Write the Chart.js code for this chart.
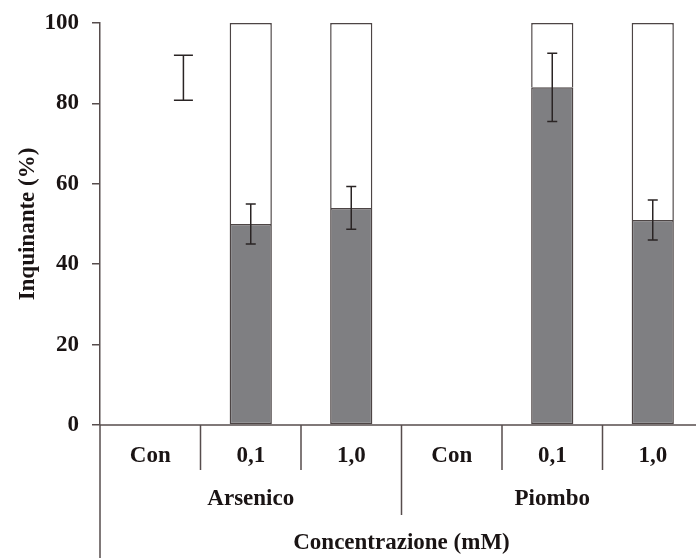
<!DOCTYPE html>
<html><head><meta charset="utf-8">
<style>html,body{margin:0;padding:0;overflow:hidden;background:#fff;width:696px;height:558px}canvas{display:block}</style>
<script src="https://cdn.jsdelivr.net/npm/chart.js@4/dist/chart.umd.min.js"></script>
</head><body><canvas id="c" width="710" height="558"></canvas>
<script>
const categories = ['Con','0,1','1,0','Con','0,1','1,0'];
const groups = ['Arsenico','Piombo'];
const groupSize = 3;
const inquinante = [null,50,54,null,84,51];
const remainder = [null,50,46,null,16,49];
const errors = [null,5,5.3,null,8.5,5];
const strayErrorBar = {category:0, offset:0.33, value:86.4, error:5.6};
const yTicks = [0,20,40,60,80,100];
const xTitle = 'Concentrazione (mM)';
const yTitle = 'Inquinante (%)';

const FONT = '"Liberation Serif", "Times New Roman", serif';
const TXT = '#1a1414';
const AX = '#574d4d';

const overlay = {
  id:'overlay',
  afterDatasetsDraw(chart){
    const ctx = chart.ctx, a = chart.chartArea, ys = chart.scales.y, xs = chart.scales.x;
    ctx.save();
    ctx.strokeStyle = '#2a2424'; ctx.lineWidth = 1.5;
    const meta = chart.getDatasetMeta(0);
    function eb(x, v, e, cap){
      const y1 = ys.getPixelForValue(v+e), y2 = ys.getPixelForValue(v-e);
      ctx.beginPath();
      ctx.moveTo(x,y1); ctx.lineTo(x,y2);
      ctx.moveTo(x-cap/2,y1); ctx.lineTo(x+cap/2,y1);
      ctx.moveTo(x-cap/2,y2); ctx.lineTo(x+cap/2,y2);
      ctx.stroke();
    }
    errors.forEach((e,i)=>{ if(e==null||inquinante[i]==null) return; eb(meta.data[i].x, inquinante[i], e, 10); });
    const cw = xs.getPixelForValue(1) - xs.getPixelForValue(0);
    eb(xs.getPixelForValue(strayErrorBar.category) + strayErrorBar.offset*cw, strayErrorBar.value, strayErrorBar.error, 19);
    ctx.strokeStyle = AX; ctx.lineWidth = 1.5;
    ctx.beginPath();
    ctx.moveTo(a.left, a.bottom); ctx.lineTo(a.right, a.bottom);
    ctx.moveTo(a.left, a.bottom); ctx.lineTo(a.left, chart.height);
    ctx.stroke();
    ctx.beginPath();
    for(let i=0;i<categories.length;i++){
      const xr = xs.getPixelForValue(i) + cw/2;
      const len = ((i+1)%groupSize===0 && i<categories.length-1) ? 90 : 45;
      ctx.moveTo(xr, a.bottom); ctx.lineTo(xr, a.bottom+len);
    }
    ctx.stroke();
    ctx.fillStyle = TXT; ctx.textAlign='center'; ctx.textBaseline='middle';
    ctx.font = 'bold 23px ' + FONT;
    categories.forEach((c,i)=> ctx.fillText(c, xs.getPixelForValue(i), a.bottom+31));
    groups.forEach((g,gi)=>{
      const x0 = xs.getPixelForValue(gi*groupSize), x1 = xs.getPixelForValue(gi*groupSize+groupSize-1);
      ctx.fillText(g, (x0+x1)/2, a.bottom+74);
    });
    ctx.fillText(xTitle, (a.left+a.right)/2, a.bottom+118);
    ctx.restore();
  }
};

new Chart(document.getElementById('c'), {
  type:'bar',
  data:{labels:categories, datasets:[
    {data:inquinante, backgroundColor:'#7f7f82', borderColor:'#4d4545', borderWidth:1.5, borderSkipped:false, categoryPercentage:1, barPercentage:0.42},
    {data:remainder, backgroundColor:'#ffffff', borderColor:'#4d4545', borderWidth:1.5, borderSkipped:'start', categoryPercentage:1, barPercentage:0.42}
  ]},
  options:{
    responsive:false, animation:false, devicePixelRatio:1,
    layout:{padding:{left:0, top:23, right:7, bottom:133}},
    plugins:{legend:{display:false}, tooltip:{enabled:false}},
    scales:{
      x:{stacked:true, display:false},
      y:{stacked:true, min:0, max:100,
        afterBuildTicks: s => { s.ticks = yTicks.map(v=>({value:v})); },
        afterFit: s => { s.width = 100; s.paddingTop = 0; s.paddingBottom = 0; },
        ticks:{color:TXT, font:{family:FONT, weight:'bold', size:23}, padding:13},
        grid:{drawOnChartArea:false, drawTicks:true, tickLength:8, color:AX, lineWidth:1.5},
        border:{display:true, color:AX, width:1.5},
        title:{display:true, text:yTitle, color:TXT, font:{family:FONT, weight:'bold', size:23}, padding:{top:14, bottom:0}}
      }
    }
  },
  plugins:[overlay]
});
</script></body></html>
